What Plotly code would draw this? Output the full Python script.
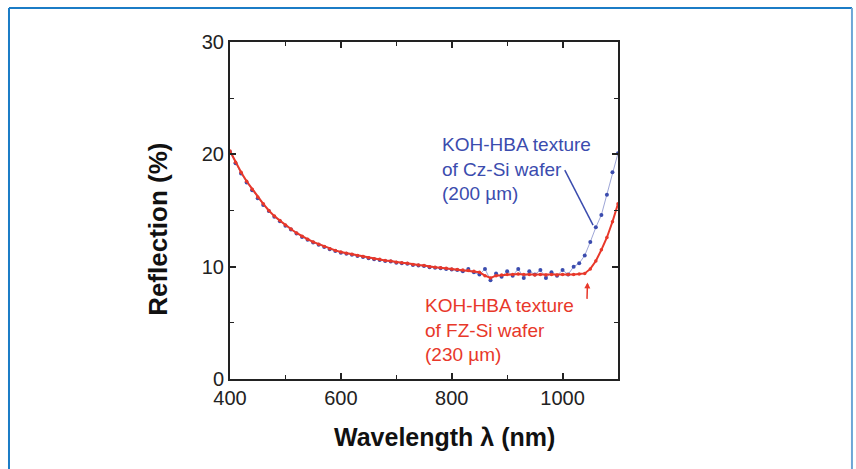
import plotly.graph_objects as go

wavelength = list(range(400, 1101, 10))

fz_reflection = [
    20.3, 19.3, 18.4, 17.6, 16.9, 16.2, 15.6, 15.0, 14.5, 14.1,
    13.7, 13.35, 13.0, 12.7, 12.45, 12.2, 12.0, 11.8, 11.6, 11.45,
    11.3, 11.2, 11.1, 11.0, 10.9, 10.8, 10.7, 10.65, 10.55, 10.5,
    10.4, 10.35, 10.3, 10.2, 10.15, 10.1, 10.0, 9.95, 9.9, 9.85,
    9.8, 9.75, 9.7, 9.65, 9.6, 9.5, 9.2, 9.0, 9.2, 9.25,
    9.3, 9.3, 9.35, 9.3, 9.3, 9.25, 9.3, 9.25, 9.3, 9.25,
    9.3, 9.3, 9.3, 9.35, 9.4, 9.8, 10.5, 11.5, 12.6, 14.0,
    15.6,
]

cz_reflection = [
    20.2, 19.2, 18.3, 17.5, 16.8, 16.1, 15.5, 14.95, 14.45, 14.05,
    13.65, 13.3, 12.95, 12.65, 12.4, 12.15, 11.95, 11.75, 11.55, 11.4,
    11.25, 11.15, 11.05, 10.95, 10.85, 10.75, 10.65, 10.6, 10.5, 10.45,
    10.35, 10.3, 10.25, 10.15, 10.1, 10.05, 9.95, 9.9, 9.85, 9.8,
    9.75, 9.7, 9.6, 9.8, 9.5, 9.3, 9.8, 8.8, 9.4, 9.1,
    9.6, 9.2, 9.8, 9.0, 9.6, 9.3, 9.7, 9.0, 9.5, 9.2,
    9.7, 9.3, 10.0, 10.3, 11.0, 12.2, 13.5, 14.6, 16.4, 18.4,
    20.1,
]

x_ticks = [400, 600, 800, 1000]
y_ticks = [0, 10, 20, 30]

blue = "#3b4cae"
red = "#e8382a"

fig = go.Figure()
fig.add_trace(go.Scatter(
    x=wavelength, y=cz_reflection, mode="lines+markers",
    line=dict(color="rgba(59,76,174,0.5)", width=1), marker=dict(color=blue, size=4),
    showlegend=False))
fig.add_trace(go.Scatter(
    x=wavelength, y=fz_reflection, mode="lines+markers",
    line=dict(color=red, width=2), marker=dict(color=red, size=3.5),
    showlegend=False))

font_family = "Liberation Sans, Arial, sans-serif"

# Series labels
fig.add_annotation(
    x=0.541, y=0.623, xref="paper", yref="paper", xanchor="left", yanchor="middle",
    text="KOH-HBA texture<br>of Cz-Si wafer<br>(200 µm)", showarrow=False, align="left",
    font=dict(family=font_family, size=19, color=blue))
fig.add_annotation(
    x=0.497, y=0.145, xref="paper", yref="paper", xanchor="left", yanchor="middle",
    text="KOH-HBA texture<br>of FZ-Si wafer<br>(230 µm)", showarrow=False, align="left",
    font=dict(family=font_family, size=19, color=red))

# Axis titles
fig.add_annotation(
    x=0.554, y=-0.172, xref="paper", yref="paper", xanchor="center", yanchor="middle",
    text="<b>Wavelength λ (nm)</b>", showarrow=False,
    font=dict(family=font_family, size=25, color="#111"))
fig.add_annotation(
    x=-0.186, y=0.445, xref="paper", yref="paper", xanchor="center", yanchor="middle",
    text="<b>Reflection (%)</b>", showarrow=False, textangle=-90,
    font=dict(family=font_family, size=26, color="#111"))

shapes = [
    # blue pointer line
    dict(type="line", xref="x", yref="y", x0=1004, y0=18.6, x1=1055, y1=13.7,
         line=dict(color=blue, width=1.5)),
    # page frame
    dict(type="line", xref="paper", yref="paper", x0=-0.5696, y0=1.1009, x1=1.603, y1=1.1009,
         line=dict(color="#1b7cc6", width=2)),
    dict(type="line", xref="paper", yref="paper", x0=-0.5696, y0=1.1009, x1=-0.5696, y1=-0.3,
         line=dict(color="#1b7cc6", width=2)),
    dict(type="line", xref="paper", yref="paper", x0=1.603, y0=1.1009, x1=1.603, y1=-0.3,
         line=dict(color="#6ea6d6", width=2)),
]
fig.add_annotation(x=1045, y=8.6, ax=1044, ay=7.0, xref="x", yref="y", axref="x", ayref="y",
                   showarrow=True, arrowhead=2, arrowsize=0.8, arrowwidth=1.5,
                   arrowcolor=red, text="")

fig.update_layout(
    width=856, height=469,
    margin=dict(l=230, r=238, t=42, b=90),
    paper_bgcolor="white", plot_bgcolor="white",
    shapes=shapes,
    font=dict(family=font_family, color="#222222"),
    xaxis=dict(
        range=[400, 1100], tickvals=x_ticks, ticks="inside", ticklen=6, tickwidth=1.5,
        tickcolor="#222", showline=True, linecolor="#222", linewidth=2, mirror="allticks",
        showgrid=False, zeroline=False, tickfont=dict(size=20, color="#222"),
        minor=dict(dtick=100, tick0=400, ticks="inside", ticklen=4, tickwidth=1.2, tickcolor="#222"),
    ),
    yaxis=dict(
        range=[0, 30], tickvals=y_ticks, ticks="inside", ticklen=6, tickwidth=1.5,
        tickcolor="#222", showline=True, linecolor="#222", linewidth=2, mirror="allticks",
        showgrid=False, zeroline=False, tickfont=dict(size=20, color="#222"),
        minor=dict(dtick=5, tick0=0, ticks="inside", ticklen=4, tickwidth=1.2, tickcolor="#222"),
    ),
)

fig.write_html(
    "out.html",
    config={"displayModeBar": False},
    post_script="document.body.style.margin='0';document.body.style.overflow='hidden';",
)
